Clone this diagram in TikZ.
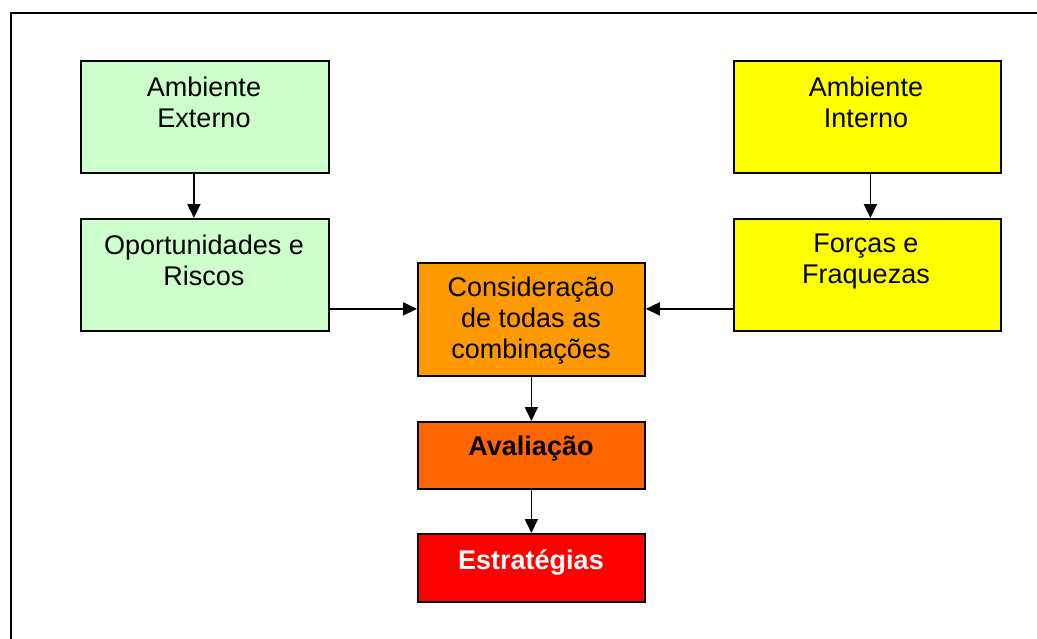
\documentclass[tikz,border=0pt]{standalone}
\usepackage{fontspec}
\setmainfont{Liberation Sans}
\usetikzlibrary{arrows.meta}
\definecolor{cgreen}{HTML}{CCFFCC}
\definecolor{cyellow}{HTML}{FFFF00}
\definecolor{corange}{HTML}{FF9900}
\definecolor{cdorange}{HTML}{FF6600}
\definecolor{cred}{HTML}{FF0000}
\tikzset{
  box/.style={draw=black, line width=1.8pt, rectangle, inner sep=0pt, anchor=north west},
  txt/.style={align=center, inner sep=0pt, font=\fontsize{27}{31}\selectfont},
  btxt/.style={align=center, inner sep=0pt, font=\fontsize{27}{31}\selectfont\bfseries},
  arr/.style={line width=1.8pt, -{Triangle[length=14pt,width=13pt]}},
}
\begin{document}
\begin{tikzpicture}[x=1pt,y=-1pt]
\useasboundingbox (0,0) rectangle (1037,638);
\clip (0,0) rectangle (1037,638);
\fill[white] (0,0) rectangle (1037,638);
\draw[line width=1.8pt] (11,650) -- (11,13) -- (1050,13);
% boxes
\node[box, fill=cgreen, minimum width=248pt, minimum height=112pt] (ae) at (80,60) {};
\node[box, fill=cgreen, minimum width=248pt, minimum height=112pt] (op) at (80,218) {};
\node[box, fill=cyellow, minimum width=267pt, minimum height=112pt] (ai) at (733,60) {};
\node[box, fill=cyellow, minimum width=267pt, minimum height=112pt] (fo) at (733,218) {};
\node[box, fill=corange, minimum width=227pt, minimum height=113pt] (co) at (417,262) {};
\node[box, fill=cdorange, minimum width=227pt, minimum height=67pt] (av) at (417,421) {};
\node[box, fill=cred, minimum width=227pt, minimum height=68pt] (es) at (417,533) {};
% texts
\node[txt] (aet) at (204,102) {Ambiente\\Externo};
\node[txt] (opt) at (204,260) {Oportunidades e\\Riscos};
\node[txt] (ait) at (866,102) {Ambiente\\Interno};
\node[txt] (fot) at (866,262) {Forças e\\Fraquezas};
\node[txt] (cot) at (531,321) {Consideração\\de todas as\\combinações};
\node[btxt] (avt) at (531,449) {Avaliação};
\node[btxt, text=white] (est) at (531,562) {Estratégias};
% connectors
\draw[arr] ([xshift=-11pt]ae.south) -- ([xshift=-11pt]op.north);
\draw[arr] ([xshift=3pt]ai.south) -- ([xshift=3pt]fo.north);
\draw[arr] ([yshift=-34pt]op.east) coordinate (a1) -- (a1 -| co.west);
\draw[arr] ([yshift=-34pt]fo.west) coordinate (a2) -- (a2 -| co.east);
\draw[arr] (co.south) -- (av.north);
\draw[arr] (av.south) -- (es.north);
\end{tikzpicture}
\end{document}
